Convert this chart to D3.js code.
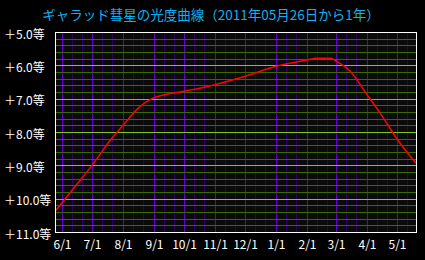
<!DOCTYPE html>
<html lang="ja">
<head>
    <meta charset="UTF-8">
    <title>光度曲線</title>
    <style>
        body { margin: 0; background: #000; }
        text { font-family: "Noto Sans CJK JP", sans-serif; }
    </style>
</head>
<body>

<svg width="425" height="260"></svg>

<script src="https://cdn.jsdelivr.net/npm/d3@7"></script>

<script>
    // 光度の読み取り値
    var dates = ["2011-05-26", "2011-06-15", "2011-07-01", "2011-07-20", "2011-08-01",
        "2011-08-15", "2011-09-01", "2011-09-15", "2011-10-01", "2011-11-01",
        "2011-12-01", "2012-01-01", "2012-02-01", "2012-02-10", "2012-02-25",
        "2012-03-01", "2012-03-15", "2012-04-01", "2012-04-15", "2012-05-01",
        "2012-05-20"];
    var mags = [10.35, 9.6, 9.0, 8.22, 7.8,
        7.32, 6.97, 6.86, 6.78, 6.58,
        6.33, 6.03, 5.84, 5.79, 5.79,
        5.87, 6.17, 6.88, 7.47, 8.21,
        8.94];
    var monthTicks = ["2011-06-01", "2011-07-01", "2011-08-01", "2011-09-01", "2011-10-01",
        "2011-11-01", "2011-12-01", "2012-01-01", "2012-02-01", "2012-03-01",
        "2012-04-01", "2012-05-01"];
    var magTicks = [5, 6, 7, 8, 9, 10, 11];
    var title = "ギャラッド彗星の光度曲線（2011年05月26日から1年）";

    var parseDate = d3.timeParse("%Y-%m-%d");
    var formatTick = d3.timeFormat("%-m/%-d");

    var svg = d3.select("svg");
    var plot = {left: 55, right: 416, top: 32, bottom: 232};

    var x = d3.scaleTime()
        .domain([parseDate("2011-05-25"), parseDate("2012-05-20")])
        .range([plot.left, plot.right]);
    var y = d3.scaleLinear()
        .domain([5, 11])
        .range([plot.top, plot.bottom]);

    var data = dates.map((d, i) => ({date: parseDate(d), mag: mags[i]}));
    var months = monthTicks.map(parseDate);

    // 10日ごとの補助線 (11日, 21日)
    var minorDays = [];
    d3.timeMonth.range(parseDate("2011-05-01"), parseDate("2012-06-01")).forEach(function (m) {
        [11, 21].forEach(function (day) {
            var d = new Date(m.getFullYear(), m.getMonth(), day);
            if (d > x.domain()[0] && d < x.domain()[1]) minorDays.push(d);
        });
    });

    // 0.2等ごとの補助線
    var minorMags = d3.range(26, 55).map(v => v / 5).filter(v => v % 1 !== 0);

    svg.append("rect")
        .attr("x", plot.left).attr("y", plot.top)
        .attr("width", plot.right - plot.left).attr("height", plot.bottom - plot.top)
        .attr("fill", "#0b0b0b");

    var grid = svg.append("g").attr("shape-rendering", "crispEdges");

    grid.selectAll(".vminor")
        .data(minorDays)
        .enter().append("line")
        .attr("x1", d => Math.round(x(d)) + 0.5).attr("x2", d => Math.round(x(d)) + 0.5)
        .attr("y1", plot.top).attr("y2", plot.bottom)
        .attr("stroke", "#2e0066");

    grid.selectAll(".vmajor")
        .data(months)
        .enter().append("line")
        .attr("x1", d => Math.round(x(d)) + 0.5).attr("x2", d => Math.round(x(d)) + 0.5)
        .attr("y1", plot.top).attr("y2", plot.bottom)
        .attr("stroke", "#6000c8");

    grid.selectAll(".hminor")
        .data(minorMags)
        .enter().append("line")
        .attr("x1", plot.left).attr("x2", plot.right)
        .attr("y1", d => Math.round(y(d)) + 0.5).attr("y2", d => Math.round(y(d)) + 0.5)
        .attr("stroke", "#3a6a00");

    grid.selectAll(".hmajor")
        .data(magTicks.slice(1, -1))
        .enter().append("line")
        .attr("x1", plot.left).attr("x2", plot.right)
        .attr("y1", d => Math.round(y(d)) + 0.5).attr("y2", d => Math.round(y(d)) + 0.5)
        .attr("stroke", "#80c820");

    var line = d3.line()
        .x(d => x(d.date))
        .y(d => y(d.mag))
        .curve(d3.curveMonotoneX);

    svg.append("path")
        .datum(data)
        .attr("fill", "none")
        .attr("stroke", "#ff0000")
        .attr("stroke-width", 1.5)
        .attr("d", line);

    svg.append("rect")
        .attr("x", plot.left + 0.5).attr("y", plot.top + 0.5)
        .attr("width", plot.right - plot.left).attr("height", plot.bottom - plot.top)
        .attr("fill", "none")
        .attr("stroke", "#fff")
        .attr("shape-rendering", "crispEdges");

    svg.selectAll(".ylab")
        .data(magTicks)
        .enter().append("text")
        .attr("x", 4)
        .attr("y", d => y(d) + 1)
        .attr("dominant-baseline", "central")
        .attr("fill", "#fff")
        .attr("font-size", 12)
        .text(d => "＋" + d.toFixed(1) + "等");

    svg.selectAll(".xlab")
        .data(months)
        .enter().append("text")
        .attr("x", d => Math.round(x(d)) + 0.5)
        .attr("y", 243)
        .attr("text-anchor", "middle")
        .attr("dominant-baseline", "central")
        .attr("fill", "#fff")
        .attr("font-size", 12)
        .text(d => formatTick(d));

    svg.append("text")
        .attr("x", 211)
        .attr("y", 20)
        .attr("text-anchor", "middle")
        .attr("fill", "#12b0f0")
        .attr("font-size", 13.5)
        .text(title);
</script>
</body>
</html>
